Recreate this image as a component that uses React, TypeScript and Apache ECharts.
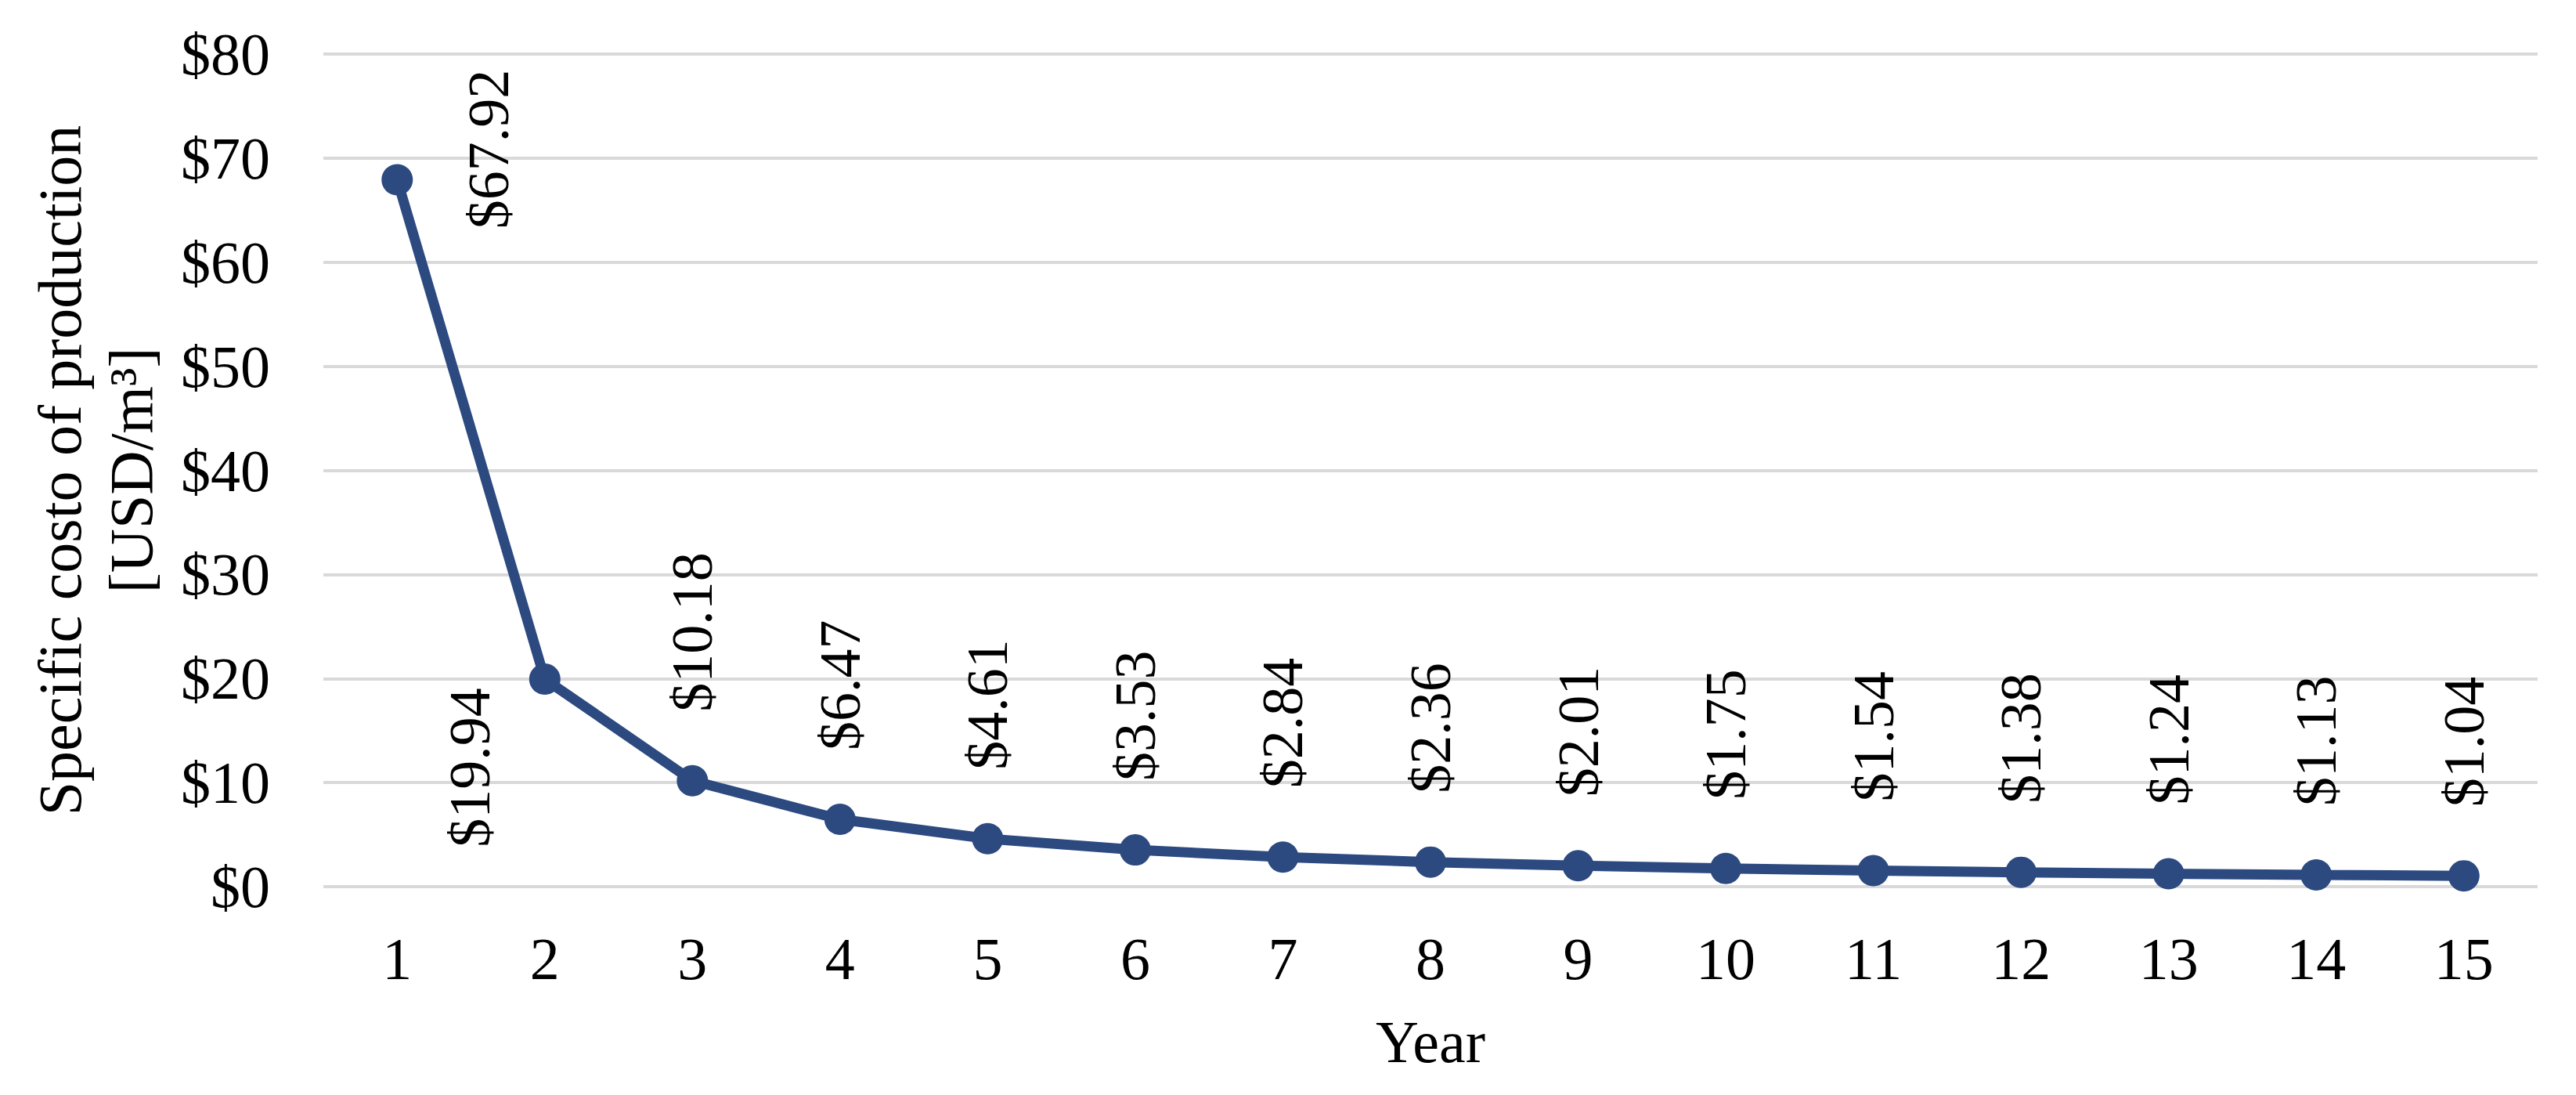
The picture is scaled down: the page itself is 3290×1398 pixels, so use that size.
import React, { useEffect, useRef } from "react";
import * as echarts from "echarts";

const years = ["1", "2", "3", "4", "5", "6", "7", "8", "9", "10", "11", "12", "13", "14", "15"];
const costs = [67.92, 19.94, 10.18, 6.47, 4.61, 3.53, 2.84, 2.36, 2.01, 1.75, 1.54, 1.38, 1.24, 1.13, 1.04];
const yTitle = "Specific costo of production\n[USD/m³]";
const xTitle = "Year";

const FONT = "'Liberation Serif', 'Times New Roman', serif";
const LINE_COLOR = "#2c4a80";
const SYMBOL = 40;

export default function App() {
  const ref = useRef<HTMLDivElement>(null);
  useEffect(() => {
    document.body.style.margin = "0";
    const chart = echarts.init(ref.current!, null, { renderer: "svg" });
    const labelBase = {
      show: true,
      rotate: 90,
      fontFamily: FONT,
      fontSize: 74,
      color: "#000",
      formatter: (p: any) => "$" + Number(p.value).toFixed(2),
    };
    const data = costs.map((v, i) => {
      let label: any;
      if (i === 0) {
        label = { ...labelBase, position: [SYMBOL / 2 + 117, SYMBOL / 2 - 39], align: "center", verticalAlign: "middle" };
      } else if (i === 1) {
        label = { ...labelBase, position: [SYMBOL / 2 - 96, SYMBOL / 2 + 113], align: "center", verticalAlign: "middle" };
      } else {
        label = { ...labelBase, position: [SYMBOL / 2, SYMBOL / 2 - 88], align: "left", verticalAlign: "middle" };
      }
      return { value: v, label };
    });
    chart.setOption({
      animation: false,
      backgroundColor: "#fff",
      grid: { left: 413, right: 49, top: 69, bottom: 266, containLabel: false },
      xAxis: {
        type: "category",
        data: years,
        boundaryGap: true,
        name: xTitle,
        nameLocation: "middle",
        nameGap: 160,
        nameTextStyle: { fontFamily: FONT, fontSize: 76, color: "#000" },
        axisLine: { show: false },
        axisTick: { show: false },
        axisLabel: { fontFamily: FONT, fontSize: 76, color: "#000", margin: 54 },
        splitLine: { show: false },
      },
      yAxis: {
        type: "value",
        min: 0,
        max: 80,
        interval: 10,
        name: yTitle,
        nameLocation: "middle",
        nameRotate: 90,
        nameGap: 200,
        nameTextStyle: { fontFamily: FONT, fontSize: 78, color: "#000", lineHeight: 91, align: "center" },
        axisLine: { show: false },
        axisTick: { show: false },
        axisLabel: {
          fontFamily: FONT,
          fontSize: 76,
          color: "#000",
          margin: 68,
          formatter: (v: number) => "$" + v,
        },
        splitLine: { show: true, lineStyle: { color: "#d9d9d9", width: 4 } },
      },
      series: [
        {
          type: "line",
          data,
          symbol: "circle",
          symbolSize: SYMBOL,
          lineStyle: { color: LINE_COLOR, width: 13 },
          itemStyle: { color: LINE_COLOR },
        },
      ],
    });
    return () => chart.dispose();
  }, []);
  return <div ref={ref} style={{ width: 3290, height: 1398 }} />;
}
